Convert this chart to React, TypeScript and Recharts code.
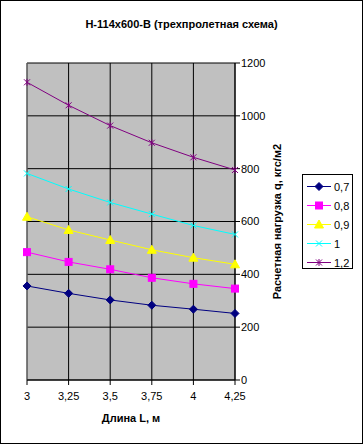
import React from "react";
import {
  LineChart,
  Line,
  XAxis,
  YAxis,
  CartesianGrid,
  ReferenceLine,
  Label,
} from "recharts";

const lengths = ["3", "3,25", "3,5", "3,75", "4", "4,25"];
const q07 = [356, 328, 303, 283, 268, 252];
const q08 = [484, 447, 419, 387, 364, 346];
const q09 = [618, 568, 530, 493, 463, 438];
const q10 = [782, 723, 672, 628, 585, 551];
const q12 = [1127, 1040, 963, 898, 843, 795];
const yTicks = [0, 200, 400, 600, 800, 1000, 1200];

type Kind = "diamond" | "square" | "triangle" | "x" | "star";

const series: { key: string; name: string; color: string; kind: Kind; values: number[] }[] = [
  { key: "q07", name: "0,7", color: "#000080", kind: "diamond", values: q07 },
  { key: "q08", name: "0,8", color: "#ff00ff", kind: "square", values: q08 },
  { key: "q09", name: "0,9", color: "#ffff00", kind: "triangle", values: q09 },
  { key: "q10", name: "1", color: "#00ffff", kind: "x", values: q10 },
  { key: "q12", name: "1,2", color: "#800080", kind: "star", values: q12 },
];

const data = lengths.map((L, i) => {
  const row: Record<string, number | string> = { L };
  series.forEach((s) => (row[s.key] = s.values[i]));
  return row;
});

const FONT = "'Liberation Sans', Arial, sans-serif";

function Marker({ kind, cx, cy, color }: { kind: Kind; cx: number; cy: number; color: string }) {
  if (cx == null || cy == null) return null;
  switch (kind) {
    case "diamond":
      return <polygon points={`${cx},${cy - 4} ${cx + 4},${cy} ${cx},${cy + 4} ${cx - 4},${cy}`} fill={color} stroke={color} />;
    case "square":
      return <rect x={cx - 3.5} y={cy - 3.5} width={7} height={7} fill={color} stroke={color} />;
    case "triangle":
      return <polygon points={`${cx},${cy - 4.5} ${cx + 4.5},${cy + 3.5} ${cx - 4.5},${cy + 3.5}`} fill={color} stroke={color} />;
    case "x":
      return (
        <g stroke={color} strokeWidth={1}>
          <line x1={cx - 3} y1={cy - 3} x2={cx + 3} y2={cy + 3} />
          <line x1={cx - 3} y1={cy + 3} x2={cx + 3} y2={cy - 3} />
        </g>
      );
    default:
      return (
        <g stroke={color} strokeWidth={1}>
          <line x1={cx - 3} y1={cy - 3} x2={cx + 3} y2={cy + 3} />
          <line x1={cx - 3} y1={cy + 3} x2={cx + 3} y2={cy - 3} />
          <line x1={cx} y1={cy - 3.5} x2={cx} y2={cy + 3.5} />
        </g>
      );
  }
}

function YTitle(props: any) {
  const vb = props.viewBox || {};
  const x = vb.x + 42;
  const y = vb.y + vb.height / 2;
  return (
    <text
      x={x}
      y={y}
      transform={`rotate(-90, ${x}, ${y})`}
      textAnchor="middle"
      dominantBaseline="central"
      fontFamily={FONT}
      fontSize={11}
      fontWeight="bold"
      fill="#000"
    >
      Расчетная нагрузка q, кгс/м2
    </text>
  );
}

function XTitle(props: any) {
  const vb = props.viewBox || {};
  return (
    <text
      x={vb.x + vb.width / 2}
      y={vb.y + 38}
      textAnchor="middle"
      dominantBaseline="central"
      fontFamily={FONT}
      fontSize={11}
      fontWeight="bold"
      fill="#000"
    >
      Длина L, м
    </text>
  );
}

function LegendBox() {
  return (
    <div
      style={{
        position: "absolute",
        left: 302,
        top: 174,
        width: 51,
        height: 95,
        boxSizing: "border-box",
        border: "1px solid #000",
        background: "#fff",
        fontFamily: FONT,
        fontSize: 11,
        paddingTop: 2,
      }}
    >
      {series.map((s) => (
        <div key={s.key} style={{ display: "flex", alignItems: "center", height: 19 }}>
          <svg width={30} height={19} style={{ flex: "none" }}>
            <line x1={4} y1={9.5} x2={28} y2={9.5} stroke={s.color} strokeWidth={1} />
            <Marker kind={s.kind} cx={16} cy={9.5} color={s.color} />
          </svg>
          <span style={{ marginLeft: 1 }}>{s.name}</span>
        </div>
      ))}
    </div>
  );
}

export default function App() {
  return (
    <div style={{ position: "absolute", left: 0, top: 0, width: 363, height: 444, background: "#fff" }}>
      <LineChart
        width={363}
        height={444}
        data={data}
        margin={{ top: 63, left: 27, right: 88, bottom: 34 }}
      >
        <CartesianGrid stroke="#000" fill="#c0c0c0" fillOpacity={1} />
        <XAxis
          dataKey="L"
          height={30}
          axisLine={{ stroke: "#000" }}
          tickLine={{ stroke: "#000" }}
          tickSize={5}
          tickMargin={7}
          interval={0}
          tick={{ fill: "#000", fontSize: 11, fontFamily: FONT }}
        >
          <Label content={<XTitle />} />
        </XAxis>
        <YAxis
          orientation="right"
          width={40}
          domain={[0, 1200]}
          ticks={yTicks}
          interval={0}
          axisLine={{ stroke: "#000" }}
          tickLine={{ stroke: "#000" }}
          tickSize={5}
          tickMargin={1}
          tick={{ fill: "#000", fontSize: 11, fontFamily: FONT, textAnchor: "start" }}
        >
          <Label content={<YTitle />} />
        </YAxis>
        <ReferenceLine x="3" stroke="#808080" />
        {series.map((s) => (
          <Line
            key={s.key}
            dataKey={s.key}
            name={s.name}
            stroke={s.color}
            strokeWidth={1}
            isAnimationActive={false}
            activeDot={false}
            dot={(p: any) => <Marker key={`${s.key}-${p.index}`} kind={s.kind} cx={p.cx} cy={p.cy} color={s.color} />}
          />
        ))}
      </LineChart>
      <div
        style={{
          position: "absolute",
          left: 0,
          right: 0,
          top: 18,
          textAlign: "center",
          fontFamily: FONT,
          fontSize: 11,
          fontWeight: "bold",
        }}
      >
        Н-114х600-В (трехпролетная схема)
      </div>
      <LegendBox />
      <div
        style={{
          position: "absolute",
          left: 0,
          top: 0,
          width: 363,
          height: 444,
          boxSizing: "border-box",
          border: "1px solid #000",
          pointerEvents: "none",
        }}
      />
    </div>
  );
}
